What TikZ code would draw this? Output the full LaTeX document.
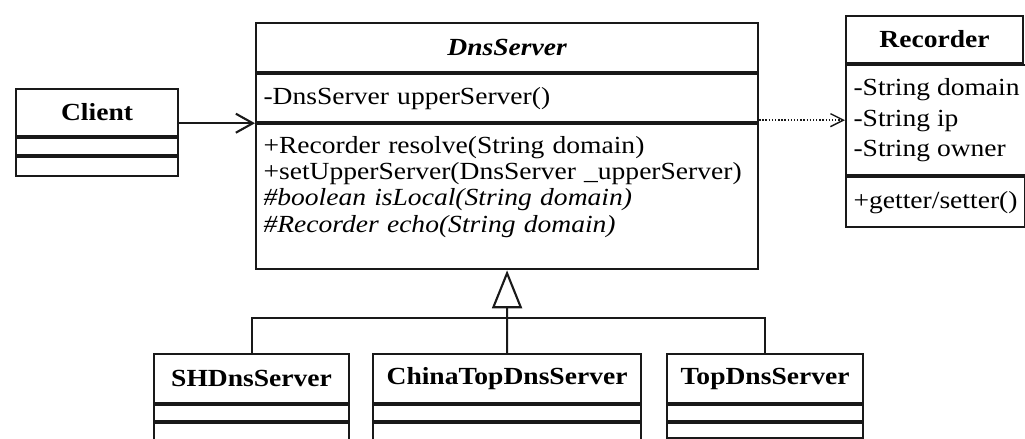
\documentclass[tikz,border=0pt]{standalone}
\usepackage{fontspec}
\setmainfont{Liberation Serif}[FakeStretch=1.12]
\usepackage{tikz}
\usetikzlibrary{arrows.meta, positioning, calc}
\colorlet{umlink}{black!90}

\begin{document}
\begin{tikzpicture}[
  every node/.style={font=\fontsize{14}{15}\selectfont},
  part/.style={draw=umlink, line width=1.2pt, anchor=north west,
               inner xsep=0.15cm, inner ysep=0pt, align=left},
  title/.style={part, align=center, font=\fontsize{14}{15}\selectfont\bfseries},
  assoc/.style={draw=umlink, line width=1.2pt, -{Straight Barb[length=0.34cm, width=0.38cm]}},
  dep/.style={draw=umlink, line width=0.8pt, densely dotted, -{Straight Barb[length=0.26cm, width=0.26cm]}},
  inherit/.style={draw=umlink, line width=1.2pt, -{Triangle[open, length=0.76cm, width=0.6cm, fill=white]}},
]
\useasboundingbox (0,0) rectangle (20.5,-8.78);

% Client
\node[title, minimum width=3.24cm, minimum height=0.94cm] (cl-name) at (0.30,-1.76) {Client};
\node[part, minimum width=3.24cm, minimum height=0.34cm] (cl-attr) at (cl-name.south west) {};
\node[part, minimum width=3.24cm, minimum height=0.38cm] (cl-meth) at (cl-attr.south west) {};

% DnsServer (abstract)
\node[title, minimum width=10.04cm, minimum height=0.98cm,
      font=\fontsize{14}{15}\selectfont\bfseries\itshape] (dns-name) at (5.10,-0.44) {DnsServer};
\node[part, text width=9.74cm, minimum height=0.96cm] (dns-attr) at (dns-name.south west) {-DnsServer upperServer()};
\node[part, text width=9.74cm, minimum height=2.90cm] (dns-meth) at (dns-attr.south west) {%
  +Recorder resolve(String domain)\\
  +setUpperServer(DnsServer \_upperServer)\\
  \textit{\#boolean isLocal(String domain)}\\
  \textit{\#Recorder echo(String domain)}\rule[-0.5cm]{0pt}{0pt}%
};

% Recorder
\node[title, minimum width=3.54cm, minimum height=0.94cm] (rec-name) at (16.90,-0.30) {Recorder};
\node[part, minimum width=3.54cm, minimum height=2.20cm] (rec-attr) at (rec-name.south west) {%
  -String domain\\[2.6pt]
  -String ip\\[2.6pt]
  -String owner%
};
\node[part, minimum width=3.54cm, minimum height=1.00cm] (rec-meth) at (rec-attr.south west) {+getter/setter()};

% subclasses
\node[title, minimum width=3.90cm, minimum height=0.98cm] (sh-name) at (3.06,-7.06) {SHDnsServer};
\node[part, minimum width=3.90cm, minimum height=0.32cm] (sh-attr) at (sh-name.south west) {};
\node[part, minimum width=3.90cm, minimum height=0.44cm] (sh-meth) at (sh-attr.south west) {};

\node[title, minimum width=5.36cm, minimum height=0.98cm] (china-name) at (7.44,-7.06) {ChinaTopDnsServer};
\node[part, minimum width=5.36cm, minimum height=0.32cm] (china-attr) at (china-name.south west) {};
\node[part, minimum width=5.36cm, minimum height=0.44cm] (china-meth) at (china-attr.south west) {};

\node[title, minimum width=3.92cm, minimum height=0.98cm] (top-name) at (13.32,-7.06) {TopDnsServer};
\node[part, minimum width=3.92cm, minimum height=0.32cm] (top-attr) at (top-name.south west) {};
\node[part, minimum width=3.92cm, minimum height=0.30cm] (top-meth) at (top-attr.south west) {};

% relations
\draw[assoc] (cl-name.east |- dns-attr.south) -- (dns-attr.south west);
\draw[dep] (dns-attr.east |- rec-attr.west) -- (rec-attr.west);
\draw[inherit] (china-name.north) -- (dns-meth.south);
\coordinate (bus) at ($(china-name.north)+(0,0.70)$);
\draw[draw=umlink, line width=1.2pt] (sh-name.north) |- (bus) -| (top-name.north);
\end{tikzpicture}
\end{document}
